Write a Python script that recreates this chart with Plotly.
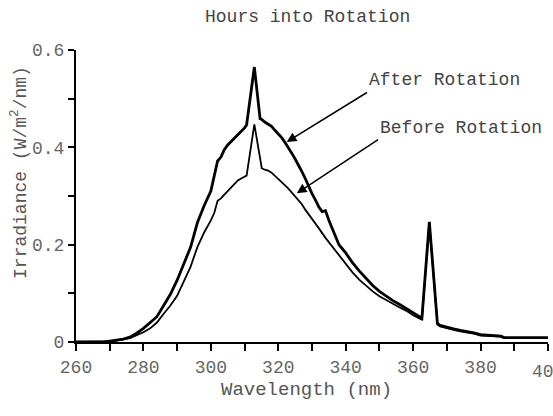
import plotly.graph_objects as go

# Wavelength (nm) and irradiance (W/m^2/nm)
wl_after = [260, 268, 270, 272, 274, 276, 278, 280, 282, 284, 286, 288, 290, 292, 294, 296, 298,
            300, 301, 302, 303, 304, 305, 306, 307, 308, 309, 310, 310.6, 312.9, 314.6, 315, 316,
            317, 318, 319, 320, 321, 322, 323, 324, 325, 326, 327, 328, 329, 330, 331, 332, 333,
            334, 335, 336, 338, 340, 342, 344, 346, 348, 350, 352, 354, 356, 358, 360, 362, 362.6,
            364.8, 367.2, 368, 370, 372, 374, 376, 378, 380, 382, 384, 386, 387, 390, 400]
irr_after = [0, 0, 0.002, 0.004, 0.006, 0.01, 0.018, 0.028, 0.04, 0.052, 0.075, 0.098, 0.127, 0.16,
             0.195, 0.245, 0.28, 0.31, 0.34, 0.372, 0.38, 0.395, 0.405, 0.412, 0.42, 0.426, 0.432,
             0.44, 0.446, 0.565, 0.459, 0.458, 0.452, 0.448, 0.443, 0.435, 0.428, 0.42, 0.41, 0.4,
             0.388, 0.376, 0.364, 0.35, 0.336, 0.32, 0.305, 0.292, 0.278, 0.268, 0.27, 0.25, 0.232,
             0.2, 0.183, 0.163, 0.146, 0.13, 0.116, 0.104, 0.094, 0.085, 0.077, 0.069, 0.06, 0.052,
             0.049, 0.247, 0.038, 0.034, 0.03, 0.027, 0.024, 0.022, 0.019, 0.015, 0.014, 0.014,
             0.012, 0.009, 0.009, 0.009]

wl_before = [260, 268, 270, 272, 274, 276, 278, 280, 282, 284, 286, 288, 290, 292, 294, 296, 298,
             300, 301, 302, 303, 304, 305, 306, 307, 308, 309, 310, 310.6, 312.9, 315.1, 316, 317,
             318, 319, 320, 321, 322, 323, 324, 325, 326, 327, 328, 329, 330, 332, 334, 336, 338,
             340, 342, 344, 346, 348, 350, 352, 354, 356, 358, 360, 362, 362.6, 364.8, 367.2, 368,
             370, 372, 374, 376, 378, 380, 382, 384, 386, 387, 390, 400]
irr_before = [0, 0, 0.001, 0.003, 0.005, 0.008, 0.014, 0.02, 0.028, 0.04, 0.058, 0.075, 0.095,
              0.125, 0.155, 0.195, 0.225, 0.25, 0.265, 0.29, 0.295, 0.303, 0.31, 0.318, 0.326,
              0.332, 0.336, 0.34, 0.342, 0.447, 0.357, 0.354, 0.352, 0.348, 0.342, 0.336, 0.33,
              0.322, 0.315, 0.307, 0.3, 0.292, 0.283, 0.272, 0.263, 0.253, 0.234, 0.214, 0.196,
              0.177, 0.16, 0.143, 0.128, 0.115, 0.104, 0.094, 0.086, 0.078, 0.071, 0.064, 0.055,
              0.048, 0.046, 0.245, 0.036, 0.032, 0.028, 0.025, 0.022, 0.02, 0.017, 0.013, 0.012,
              0.012, 0.011, 0.008, 0.008, 0.008]

x_tick_vals = [260, 280, 300, 320, 340, 360, 380]
x_last_label = "40"   # the 400 label is cut off at the right edge in the reference
y_tick_vals = [0, 0.2, 0.4, 0.6]

FONT = "Liberation Mono, Courier New, monospace"

fig = go.Figure()
fig.add_trace(go.Scatter(x=wl_before, y=irr_before, mode="lines",
                         line=dict(color="black", width=1.8), name="Before Rotation"))
fig.add_trace(go.Scatter(x=wl_after, y=irr_after, mode="lines",
                         line=dict(color="black", width=2.8), name="After Rotation"))

fig.update_layout(
    width=553, height=416,
    margin=dict(l=76, r=5, t=50, b=74),
    paper_bgcolor="white", plot_bgcolor="white",
    showlegend=False,
    font=dict(family=FONT, size=18, color="#555"),
)
fig.update_xaxes(range=[260, 400], tickvals=x_tick_vals, ticks="outside", ticklen=7, tickwidth=2,
                 tickcolor="black", showline=True, linewidth=2, linecolor="black",
                 showgrid=False, zeroline=False,
                 tickfont=dict(family=FONT, size=18, color="#666"),
                 minor=dict(dtick=10, tick0=260, ticks="outside", ticklen=7, tickwidth=2,
                            tickcolor="black", showgrid=False))
fig.update_yaxes(range=[0, 0.6], tickvals=y_tick_vals, ticks="outside", ticklen=6, tickwidth=2,
                 tickcolor="black", showline=True, linewidth=2, linecolor="black",
                 showgrid=False, zeroline=False,
                 tickfont=dict(family=FONT, size=18, color="#666"),
                 minor=dict(dtick=0.1, tick0=0, ticks="outside", ticklen=6, tickwidth=2,
                            tickcolor="black", showgrid=False))

fig.add_annotation(text=x_last_label, xref="paper", yref="paper", x=0.963, y=-0.1027,
                   xanchor="left", yanchor="middle", showarrow=False, borderpad=0,
                   font=dict(family=FONT, size=18, color="#666"))

ann_font = dict(family=FONT, size=18, color="#444")
fig.add_annotation(text="Hours into Rotation", xref="paper", yref="paper", x=0.4915, y=1.113,
                   xanchor="center", yanchor="middle", showarrow=False, font=ann_font)
fig.add_annotation(text="Wavelength (nm)", xref="paper", yref="paper", x=0.489, y=-0.164,
                   xanchor="center", yanchor="middle", showarrow=False,
                   font=dict(family=FONT, size=19, color="#555"))
fig.add_annotation(text="Irradiance (W/m<sup>2</sup>/nm)", xref="paper", yref="paper",
                   x=-0.1186, y=0.579, xanchor="center", yanchor="middle", textangle=-90,
                   showarrow=False, font=dict(family=FONT, size=18, color="#555"))

# labelled arrows
fig.add_annotation(text="After Rotation", x=322.5, y=0.411, ax=346.3, ay=0.5127,
                   axref="x", ayref="y", xref="x", yref="y", xanchor="left", yanchor="bottom",
                   showarrow=True, arrowhead=2, arrowsize=1.3, arrowwidth=1.5,
                   arrowcolor="black", font=ann_font)
fig.add_annotation(text="Before Rotation", x=325.5, y=0.3055, ax=349.6, ay=0.416,
                   axref="x", ayref="y", xref="x", yref="y", xanchor="left", yanchor="bottom",
                   showarrow=True, arrowhead=2, arrowsize=1.3, arrowwidth=1.5,
                   arrowcolor="black", font=ann_font)

post = (
    "document.documentElement.style.overflow='hidden';"
    "document.body.style.margin='0';document.body.style.overflow='hidden';"
)
fig.write_html("out.html", config={"displayModeBar": False}, post_script=post)
